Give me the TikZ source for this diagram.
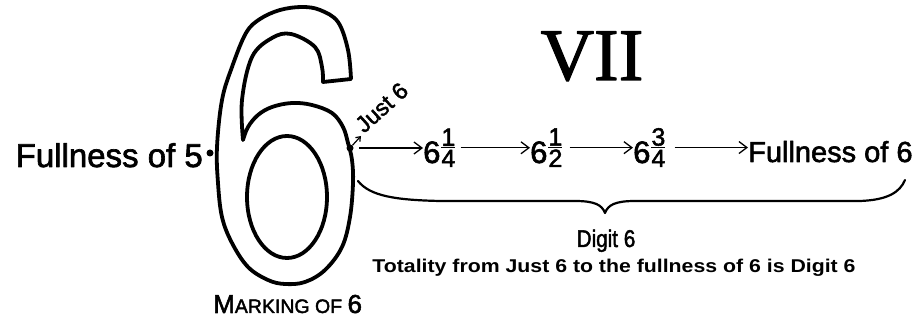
\documentclass[tikz,border=0pt]{standalone}
\usepackage{fontspec}
\setmainfont[FakeBold=2]{Liberation Sans}
\newfontfamily\heavy{Liberation Sans Bold}
\newfontfamily\vserif[FakeBold=1.6]{Liberation Serif}
\usetikzlibrary{arrows.meta}
\newcommand\fsz[1]{\fontsize{#1}{#1}\selectfont}
\newcommand\stackfrac[2]{\raisebox{-4pt}{\vbox{\fsz{25}\halign{\hfil##\hfil\cr #1\cr\noalign{\kern1.2pt\hrule height 1.3pt\kern1.5pt}#2\cr}}}}
\begin{document}
\begin{tikzpicture}[x=1pt,y=-1pt,line join=round,
  sixline/.style={line width=3.8pt},
  txt/.style={inner sep=0pt},
  dot/.style={circle,fill,inner sep=0pt,minimum size=7pt},
  arr/.style={line width=1.3pt,-{Straight Barb[length=8pt,width=12pt]}},
  arrsmall/.style={line width=1.2pt,-{Straight Barb[length=4pt,width=6pt]}}]
\useasboundingbox (0,0) rectangle (919,320);
% the outline digit 6
\draw[sixline] plot[smooth,tension=0.6] coordinates {(351,79) (348,50) (338,22) (320,10) (302,7) (280,10) (260,19) (246,33) (232,67) (222,100) (217,147) (218,183) (222,217) (232,243) (248,267) (268,280) (285,284) (305,282) (325,270) (342,247) (350,217) (353,183) (352,160) (348,143) (343,127) (332,113) (312,105) (292,103) (272,107) (258,115) (248,127) (243,140)}
  -- plot[smooth,tension=0.6] coordinates {(243,140) (242,100) (252,57) (272,38) (291,34) (315,47) (322,67) (323,82)} -- cycle;
\draw[sixline] (287,197) ellipse [x radius=40,y radius=61];
% texts
\node[txt,font=\fsz{33},anchor=base east] (f5) at (203,167) {Fullness of 5};
\node[dot] (d5) at (210,153) {};
\node[dot] (j6) at (350,148) {};
\coordinate (ja) at (361,136);
\draw[arrsmall] (j6) -- (ja);
\node[txt,font=\fsz{23},rotate=42,anchor=base west] (just) at (364,134) {Just 6};
\node[txt,font=\vserif\fsz{74},anchor=base] (vii) at (592,80) {VII};
\node[txt,font=\fsz{31},anchor=base west] (q1) at (423,163) {6\kern1pt\stackfrac{1}{4}};
\node[txt,font=\fsz{31},anchor=base west] (q2) at (530,163) {6\kern1pt\stackfrac{1}{2}};
\node[txt,font=\fsz{31},anchor=base west] (q3) at (633,163) {6\kern1pt\stackfrac{3}{4}};
\node[txt,font=\fsz{29},anchor=base west] (f6) at (748,162) {Fullness of 6};
\draw[arr] ([xshift=9pt]j6.center) -- (j6.center -| q1.west);
\draw[arr] ([xshift=5pt]q1.east) -- (q1.east -| q2.west);
\draw[arr] ([xshift=7pt]q2.east) -- (q2.east -| q3.west);
\draw[arr] ([xshift=9pt]q3.east) -- (q3.east -| f6.west);
% brace
\coordinate (bl) at (358,181);
\coordinate (bt) at (605,213);
\coordinate (br) at (905,180);
\draw[line width=2.2pt,line cap=round] (bl) .. controls (370,196) and (395,200) .. (440,201) -- (575,201) .. controls (595,201) and (602,205) .. (bt) .. controls (608,205) and (615,201) .. (635,201) -- (860,201) .. controls (888,200) and (900,192) .. (br);
\node[txt,font=\fsz{23},anchor=base] (dg) at (606,247) {\scalebox{0.9}[1.05]{Digit 6}};
\node[txt,font=\heavy\fsz{18.5},anchor=base] (tot) at (614,273) {\scalebox{1.15}[1]{Totality from Just 6 to the fullness of 6 is Digit 6}};
\node[txt,anchor=base west] (mk) at (213,313) {\fsz{26}M\fsz{19.5}ARKING OF \fsz{26}6};
\end{tikzpicture}
\end{document}
